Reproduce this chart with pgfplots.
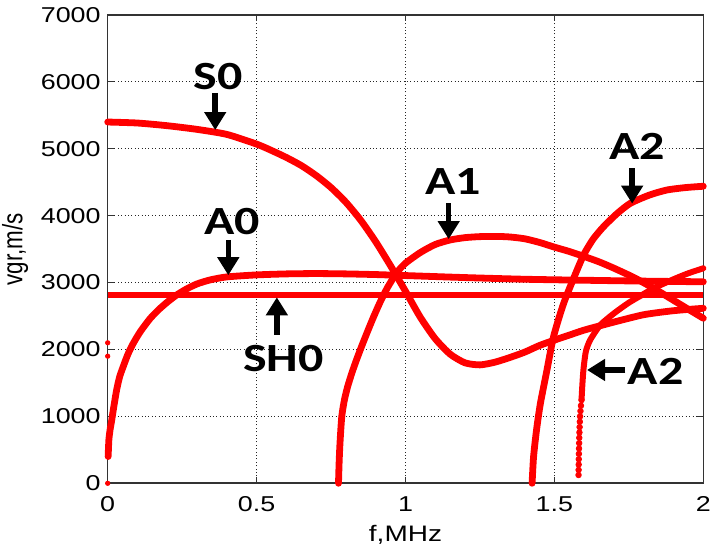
\documentclass[border=0pt]{standalone}
\usepackage{pgfplots}
\pgfplotsset{compat=1.18}
\usepackage{fontspec}
\setmainfont{Liberation Sans}
\newfontfamily\calibri{Carlito}
\usetikzlibrary{arrows.meta}
\newcommand{\sx}[1]{\scalebox{1.25}[1]{#1}}
\tikzset{ann/.style={font=\calibri\bfseries\fontsize{20}{24}\selectfont, inner sep=0pt},
  arr/.style={-{Triangle[width=10.5pt,length=9pt]}, line width=2.8pt, black}}
\begin{document}
\begin{tikzpicture}
\begin{axis}[
  scale only axis, width=297.8pt, height=234.15pt,
  xmin=0, xmax=2, ymin=0, ymax=7000,
  xtick={0,0.5,1,1.5,2}, ytick={0,1000,...,7000},
  scaled y ticks=false, scaled x ticks=false,
  /pgf/number format/assume math mode=true,
  /pgf/number format/1000 sep={},
  xticklabel={\sx{\pgfmathprintnumber{\tick}}},
  yticklabel={\sx{\pgfmathprintnumber{\tick}}},
  ticklabel style={font=\fontsize{10.75}{12}\selectfont},
  xticklabel style={yshift=-3pt},
  grid=major,
  major grid style={black!85, line width=0.5pt, dash pattern=on 0.5pt off 1.2pt},
  axis line style={black!80, line width=0.8pt},
  major tick length=3pt, tick style={black!80, line width=0.6pt},
  xlabel={\sx{f,MHz}}, ylabel={\scalebox{1}[1.25]{vgr,m/s}},
  label style={font=\fontsize{11.2}{13}\selectfont},
  xlabel style={at={(axis description cs:0.5,-0.11)}, anchor=center},
  ylabel style={at={(axis description cs:-0.1556,0.5)}, anchor=center},
  clip=false,
  every axis plot/.append style={line join=round, line cap=round},
]
\coordinate (bbl) at (rel axis cs:-0.1808,-0.1403);
\coordinate (btr) at (rel axis cs:1.0129,1.032);

% SH0
\addplot[red, line width=3.4pt, line cap=butt] coordinates {(0,2815) (2,2815)};
% A0
\addplot[red, line width=3.4pt, smooth, tension=0.4] coordinates {
(0.0015,400) (0.004,650) (0.008,800) (0.013,930) (0.02,1130) (0.03,1395) (0.04,1590)
(0.052,1743) (0.068,1930) (0.086,2093) (0.11,2270) (0.142,2460) (0.17,2590)
(0.198,2700) (0.23,2810) (0.265,2905) (0.3,2980) (0.344,3040) (0.4,3085)
(0.5,3115) (0.6,3130) (0.7,3135) (0.8,3130) (0.9,3120) (1.0,3105) (1.2,3075)
(1.4,3050) (1.6,3035) (1.8,3022) (2.0,3012)};
% S0
\addplot[red, line width=3.4pt, smooth, tension=0.4] coordinates {
(0,5400) (0.1,5385) (0.2,5345) (0.3,5290) (0.4,5215) (0.5,5070) (0.55,4975)
(0.6,4870) (0.65,4750) (0.7,4600) (0.75,4420) (0.8,4200) (0.85,3930)
(0.9,3610) (0.95,3250) (1.0,2870) (1.05,2480) (1.1,2160) (1.15,1930)
(1.2,1800) (1.25,1770) (1.3,1810) (1.35,1880) (1.4,1960) (1.45,2060)
(1.5,2140) (1.55,2215) (1.6,2290) (1.7,2410) (1.8,2520) (1.9,2580) (2.0,2616)};
% A1
\addplot[red, line width=3.4pt, smooth, tension=0.4] coordinates {
(0.775,0) (0.777,300) (0.780,600) (0.786,1000) (0.795,1250) (0.806,1450)
(0.82,1650) (0.835,1840) (0.852,2040) (0.870,2242) (0.892,2480) (0.915,2710)
(0.94,2930) (0.971,3150) (1.0,3290) (1.05,3450) (1.1,3570) (1.15,3637) (1.2,3672)
(1.25,3687) (1.307,3690) (1.35,3682) (1.4,3655) (1.45,3600) (1.5,3530)
(1.55,3465) (1.6,3390) (1.65,3310) (1.7,3215) (1.765,3080) (1.833,2915)
(1.9,2735) (1.95,2600) (2.0,2467)};
% A2 (upper)
\addplot[red, line width=3.4pt, smooth, tension=0.4] coordinates {
(1.425,0) (1.43,398) (1.44,800) (1.453,1196) (1.475,1694) (1.497,2191)
(1.531,2690) (1.576,3188) (1.6,3430) (1.63,3650) (1.665,3836) (1.71,4030)
(1.755,4185) (1.82,4310) (1.878,4384) (1.94,4420) (2.0,4440)};
% A2 (lower)
\addplot[red, only marks, mark=*, mark size=1.4pt] coordinates {
(1.581,124) (1.5812,200) (1.5815,280) (1.5818,360) (1.5822,440) (1.5826,520)
(1.583,600) (1.5835,680) (1.584,760) (1.5846,840) (1.5853,920) (1.586,1000)
(1.5875,1080) (1.589,1160) (1.591,1245)};
\addplot[red, line width=3.0pt, smooth, tension=0.4] coordinates {
(1.591,1245) (1.5935,1450) (1.5965,1650) (1.600,1800) (1.606,1980) (1.62,2142)
(1.654,2366) (1.7,2540) (1.75,2700) (1.8,2830) (1.833,2915) (1.9,3050)
(1.95,3140) (2.0,3214)};
% dots at f=0
\addplot[red, only marks, mark=*, mark size=1.1pt] coordinates {(0,0) (0,1900) (0,2100)};

% annotations
\node[ann] at (axis cs:0.371,6078) {\sx{S0}};
\draw[arr] (axis cs:0.361,5834) -- (axis cs:0.361,5280);
\node[ann] at (axis cs:0.417,3910) {\sx{A0}};
\draw[arr] (axis cs:0.405,3640) -- (axis cs:0.405,3110);
\node[ann] at (axis cs:0.590,1868) {\sx{SH0}};
\draw[arr] (axis cs:0.568,2217) -- (axis cs:0.568,2780);
\node[ann] at (axis cs:1.161,4508) {\sx{A1}};
\draw[arr] (axis cs:1.145,4185) -- (axis cs:1.145,3650);
\node[ann] at (axis cs:1.777,5031) {\sx{A2}};
\draw[arr] (axis cs:1.761,4708) -- (axis cs:1.761,4180);
\node[ann] at (axis cs:1.84,1666) {\sx{A2}};
\draw[arr] (axis cs:1.738,1694) -- (axis cs:1.6095,1694);
\end{axis}
\pgfresetboundingbox
\path[use as bounding box] (bbl) rectangle (btr);
\end{tikzpicture}
\end{document}
